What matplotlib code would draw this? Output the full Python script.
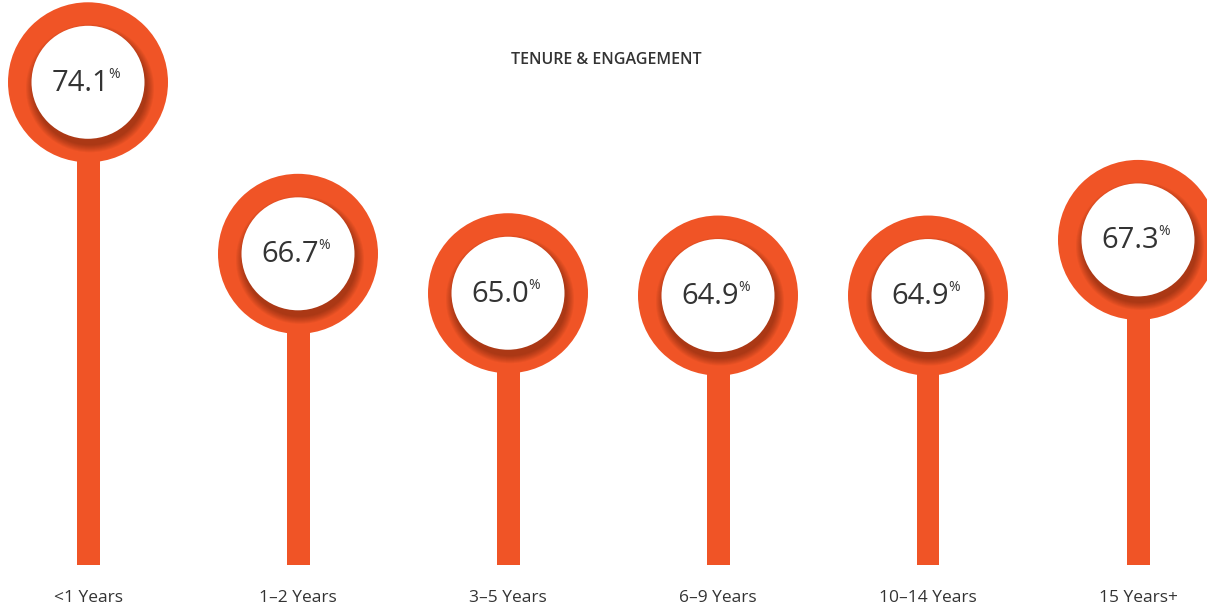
import matplotlib
matplotlib.use("Agg")
import matplotlib.pyplot as plt
from matplotlib.transforms import ScaledTranslation
import numpy as np

categories = ["<1 Years", "1\u20132 Years", "3\u20135 Years", "6\u20139 Years", "10\u201314 Years", "15 Years+"]
values = [74.1, 66.7, 65.0, 64.9, 64.9, 67.3]
title = "TENURE & ENGAGEMENT"

ORANGE = "#F05426"
TEXT = "#333333"
DPI = 100
W, H = 1207, 608

fig = plt.figure(figsize=(W / DPI, H / DPI), dpi=DPI)
ax = fig.add_axes([0, 0, 1, 1])
ax.set_xlim(-88 / 210, (W - 88) / 210)
ax.set_ylim(51.42, 77.65)
ax.axis("off")

x = np.arange(len(values))
base = 53.27

# stems
ax.bar(x, np.array(values) - base, bottom=base, width=23 / 210, color=ORANGE, zorder=1)

def pt(px):
    return (px * 0.72) ** 2

# outer orange disk
ax.scatter(x, values, s=pt(160), color=ORANGE, edgecolors="none", zorder=2)

# soft shadow of the white disk
shift = ScaledTranslation(2 / DPI, -6 / DPI, fig.dpi_scale_trans)
for r in np.linspace(64, 57, 8):
    ax.scatter(x, values, s=pt(2 * r), color="#3a0e00", alpha=0.055, edgecolors="none",
               zorder=3, transform=ax.transData + shift)

# white disk
ax.scatter(x, values, s=pt(113), color="white", edgecolors="none", zorder=4)

for xi, v in zip(x, values):
    ax.annotate(f"{v:.1f}", (xi, v), xytext=(-8 * 0.72, -1 * 0.72), textcoords="offset points",
                ha="center", va="center", fontsize=21, color=TEXT, family="Open Sans", zorder=5)
    ax.annotate("%", (xi, v), xytext=(20 * 0.72, 8 * 0.72), textcoords="offset points",
                ha="left", va="center", fontsize=10, color=TEXT, family="Open Sans", zorder=5)
    ax.annotate(categories[xi], (xi, 0), xycoords=("data", "figure fraction"),
                xytext=(0, 10 * 0.72), textcoords="offset points",
                ha="center", va="center", fontsize=12.5, color=TEXT, family="Open Sans")

fig.text(606 / W, 1 - 60 / H, title, ha="center", va="center", fontsize=11.5,
         color=TEXT, family="Open Sans", fontweight="semibold")

fig.savefig("out.png", dpi=DPI)
